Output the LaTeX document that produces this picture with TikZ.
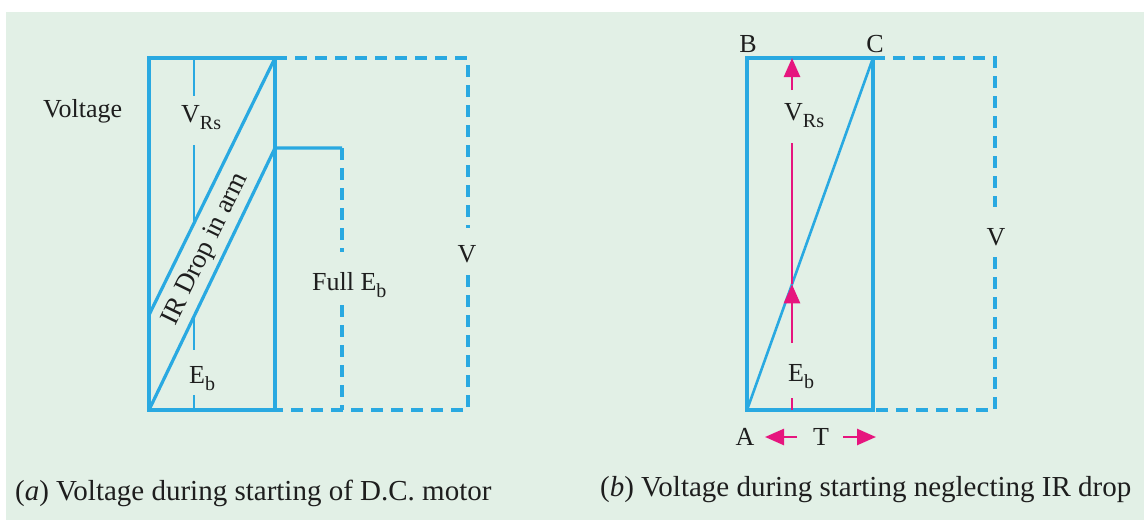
\documentclass[tikz,border=0pt]{standalone}
\usepackage{fontspec}
\setmainfont{Liberation Serif}
\usetikzlibrary{arrows.meta}
\definecolor{bgc}{HTML}{E2F0E6}
\definecolor{lb}{HTML}{29A9E1}
\definecolor{mg}{HTML}{E6157E}
\definecolor{tx}{HTML}{1E1E1E}
\newcommand\subs[1]{\raisebox{-7pt}{\fontsize{20}{20}\selectfont #1}}
\begin{document}
\begin{tikzpicture}[x=1pt,y=-1pt,
  solidl/.style={lb,line width=3.2pt},
  dashl/.style={lb,line width=3.2pt,dash pattern=on 12pt off 8pt},
  thinl/.style={lb,line width=2.6pt},
  mgl/.style={mg,line width=2.6pt},
  mgarr/.style={mg,line width=2.6pt,-{Triangle[width=16pt,length=19pt]}},
  lab/.style={text=tx,inner sep=0pt,font=\fontsize{26}{26}\selectfont},
  captxt/.style={text=tx,inner sep=0pt,anchor=base west,font=\fontsize{29}{29}\selectfont}]
\useasboundingbox (0,0) rectangle (1144,520);
\fill[bgc] (6,12) rectangle (1144,520);

% ---------- left diagram ----------
\coordinate (a1) at (149,58);
\coordinate (a2) at (275,58);
\coordinate (a3) at (275,410);
\coordinate (a4) at (149,410);
\coordinate (a5) at (149,315);
\coordinate (a6) at (275,148);
\coordinate (a7) at (342,148);
\coordinate (a8) at (342,410);
\coordinate (a9) at (468,58);
\coordinate (a10) at (468,410);
\coordinate (fe1) at (342,252);
\coordinate (fe2) at (342,305);
\coordinate (v1) at (468,228);
\coordinate (v2) at (468,275);
\coordinate (i1) at (194,58);
\coordinate (i2) at (194,96);
\coordinate (i3) at (194,145);
\coordinate (i4) at (194,223.2);
\coordinate (i5) at (194,316.4);
\coordinate (i6) at (194,350);
\coordinate (i7) at (194,395);
\coordinate (i8) at (194,410);

\draw[solidl] (a1) rectangle (a3);
\draw[solidl] (a2) -- (a5);
\draw[solidl] (a4) -- (a6) -- (a7);
\draw[thinl] (i1) -- (i2);
\draw[thinl] (i3) -- (i4);
\draw[thinl] (i5) -- (i6);
\draw[thinl] (i7) -- (i8);
\draw[dashl] (a7) -- (fe1);
\draw[dashl] (fe2) -- (a8);
\draw[dashl] (a2) -- (a9) -- (v1);
\draw[dashl] (v2) -- (a10) -- (a3);

\node[lab,anchor=base west] (volt) at (43,117) {Voltage};
\node[lab,anchor=base west] (vrsa) at (181,122) {V\subs{Rs}};
\node[lab,anchor=base west] (eba) at (189,383) {E\subs{b}};
\node[lab,anchor=base west] (fullEb) at (312,290) {Full E\subs{b}};
\node[lab,anchor=base] (va) at (467,262) {V};
\node[lab,rotate=64,font=\fontsize{27}{27}\selectfont] (ir) at (206,249) {IR Drop in arm};
\node[captxt] (capa) at (15,500) {(\textit{a}) Voltage during starting of D.C. motor};

% ---------- right diagram ----------
\coordinate (b1) at (747,58);
\coordinate (b2) at (873,58);
\coordinate (b3) at (873,410);
\coordinate (b4) at (747,410);
\coordinate (b5) at (995,58);
\coordinate (b6) at (995,410);
\coordinate (w1) at (995,207);
\coordinate (w2) at (995,257);
\coordinate (m0) at (792,410);
\coordinate (m1) at (792,398);
\coordinate (m2) at (792,343);
\coordinate (m3) at (792,284.3);
\coordinate (m4) at (792,143);
\coordinate (m5) at (792,90);
\coordinate (m6) at (792,58);
\coordinate (t1) at (797,437);
\coordinate (t2) at (765,437);
\coordinate (t3) at (843,437);
\coordinate (t4) at (876,437);

\draw[solidl] (b1) rectangle (b3);
\draw[thinl] (b4) -- (b2);
\draw[dashl] (b2) -- (b5) -- (w1);
\draw[dashl] (w2) -- (b6) -- (b3);
\draw[mgl] (m0) -- (m1);
\draw[mgarr] (m2) -- (m3);
\draw[mgl] (m3) -- (m4);
\draw[mgarr] (m5) -- (m6);
\draw[mgarr] (t1) -- (t2);
\draw[mgarr] (t3) -- (t4);

\node[lab,anchor=base] (B) at (748,52) {B};
\node[lab,anchor=base] (C) at (875,52) {C};
\node[lab,anchor=base] (A) at (745,445) {A};
\node[lab,anchor=base] (T) at (821,445) {T};
\node[lab,anchor=base west] (vrsb) at (784,120) {V\subs{Rs}};
\node[lab,anchor=base west] (ebb) at (788,381) {E\subs{b}};
\node[lab,anchor=base] (vb) at (996,245) {V};
\node[captxt] (capb) at (600,496) {(\textit{b}) Voltage during starting neglecting IR drop};
\end{tikzpicture}
\end{document}
